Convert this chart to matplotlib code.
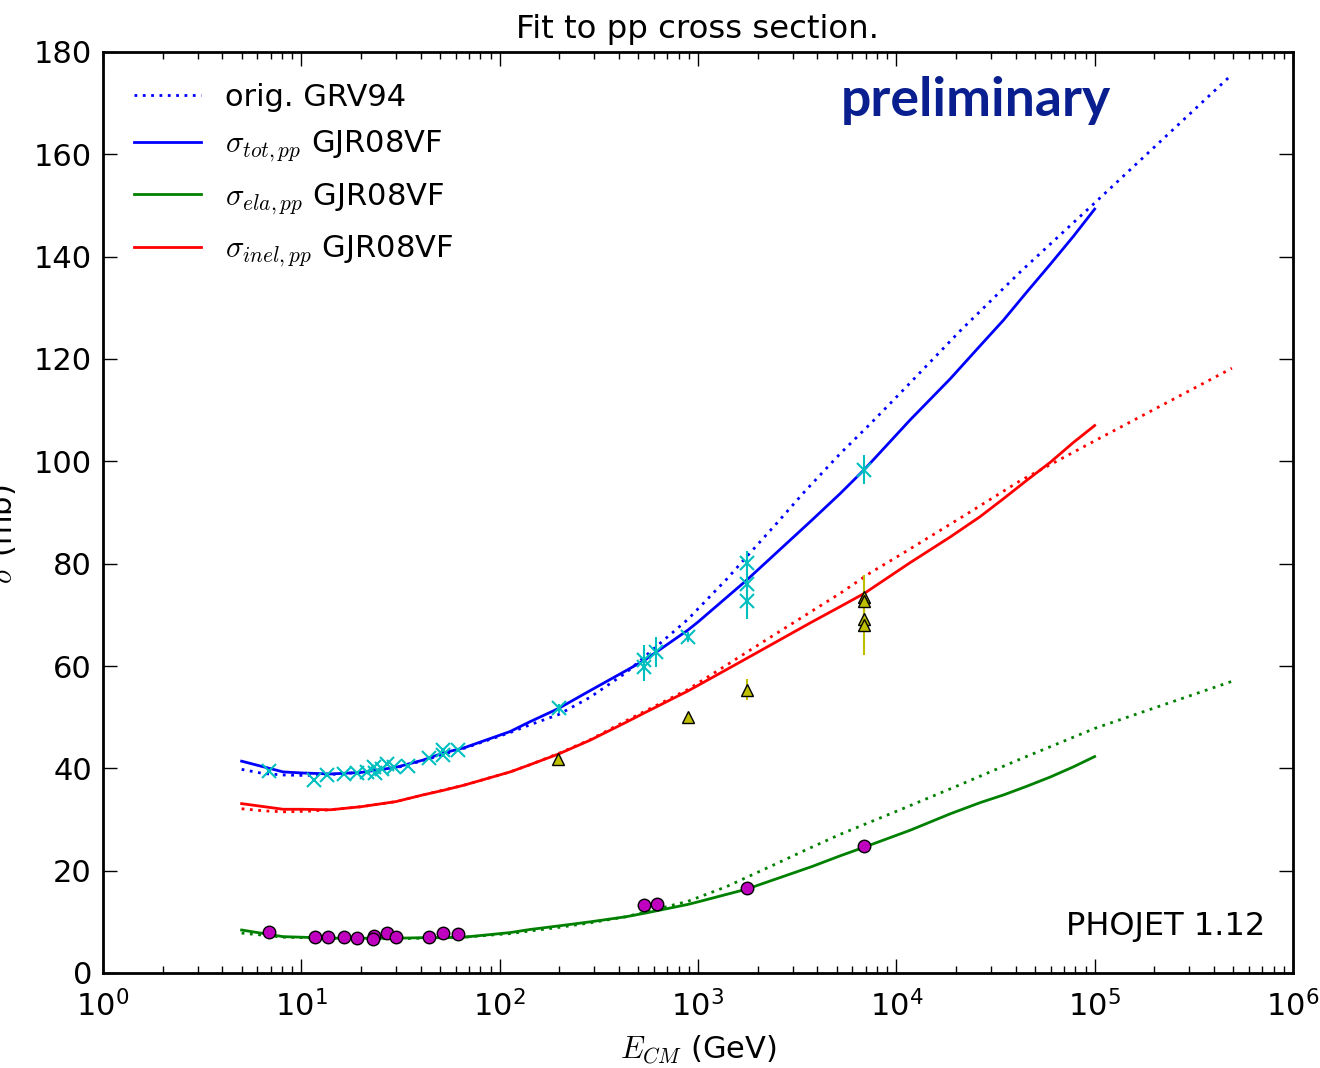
import numpy as np
import matplotlib
matplotlib.use("Agg")
import matplotlib.pyplot as plt

# ---- GJR08VF fit curves ----
E_fit = [5, 8.1, 10, 14, 20, 30, 41, 52, 66, 113, 142, 198, 286, 434, 541,
         888, 1000, 1762, 3750, 5210, 6900, 11740, 18670, 26470, 34700, 45500,
         59700, 78200, 100000]
tot_fit = [41.4, 39.3, 39.1, 38.9, 39.2, 40.2, 41.6, 43.0, 44.0, 47.2, 49.1,
           51.7, 55.2, 59.1, 61.2, 67.0, 68.6, 76.8, 88.5, 93.7, 98.4, 108.1,
           116.1, 122.6, 127.6, 133.1, 138.5, 144.0, 149.3]
inel_fit = [33.1, 32.0, 32.0, 31.9, 32.5, 33.5, 34.8, 35.7, 36.7, 39.3, 40.7,
            42.8, 45.5, 49.0, 50.9, 55.1, 56.2, 61.5, 68.6, 71.6, 74.2, 80.2,
            85.2, 89.2, 92.7, 96.3, 99.8, 103.7, 107.0]
ela_fit = [8.4, 7.1, 7.0, 6.8, 6.8, 6.8, 6.9, 6.9, 7.0, 7.9, 8.5, 9.2, 10.0,
           11.0, 11.7, 13.4, 13.9, 16.4, 20.8, 22.9, 24.6, 27.9, 31.1, 33.3,
           34.8, 36.5, 38.3, 40.3, 42.3]

# ---- original GRV94 curves ----
E_grv = [5, 6.4, 8.1, 10.6, 14, 20, 30, 41, 66, 113, 142, 198, 286, 434, 888,
         1397, 1830, 2495, 3470, 5210, 7380, 10450, 20980, 42100, 100000, 492000]
tot_grv = [39.8, 39.0, 38.7, 38.6, 38.8, 39.2, 40.1, 41.5, 43.9, 47.0, 48.5,
           50.5, 53.9, 58.7, 69.1, 77.0, 82.1, 87.9, 94.2, 101.5, 107.3, 113.3,
           125.5, 137.0, 150.5, 175.6]
inel_grv = [32.1, 31.7, 31.5, 31.6, 31.9, 32.5, 33.5, 34.8, 36.7, 39.3, 40.7,
            42.9, 45.6, 49.3, 55.4, 60.2, 63.1, 66.4, 69.9, 74.2, 78.2, 81.7,
            88.9, 96.2, 104.0, 118.2]
ela_grv = [7.8, 7.4, 7.0, 6.9, 6.8, 6.7, 6.7, 6.8, 7.0, 7.7, 8.2, 8.9, 9.8,
           11.0, 14.0, 16.9, 19.0, 21.4, 24.0, 27.1, 29.5, 31.9, 36.8, 41.8,
           47.8, 57.0]

# ---- measurements ----
E_tot = [6.9, 11.6, 13.5, 16.5, 19.0, 21.4, 23.3, 23.5, 25.4, 27.0, 29.3, 34.7,
         44.0, 52.0, 52.0, 62.0, 198, 537, 537, 615, 888, 1775, 1775, 1775, 6900]
sig_tot = [39.5, 37.7, 38.7, 38.8, 39.1, 39.3, 40.2, 39.1, 39.8, 40.8, 40.3,
           40.5, 42.0, 43.6, 42.6, 43.5, 51.7, 61.2, 59.9, 62.8, 65.6, 80.2,
           76.0, 72.7, 98.4]
err_tot = [0.3, 0.3, 0.3, 0.3, 0.3, 0.3, 0.3, 0.3, 0.3, 0.3, 0.3, 0.3, 0.3,
           0.3, 0.3, 0.3, 0.8, 2.9, 2.9, 2.9, 1.0, 2.3, 2.2, 3.6, 2.9]

E_inel = [197, 888, 1775, 6900, 6900, 6900, 6900]
sig_inel = [41.8, 50.1, 55.4, 73.5, 72.7, 69.2, 68.0]
err_inel = [0.6, 0.5, 2.1, 4.3, 1.5, 2.5, 5.9]

E_ela = [6.9, 11.7, 13.6, 16.5, 19.0, 23.3, 23.0, 27.1, 29.9, 44.0, 52.0,
         61.5, 537, 620, 1775, 6900]
sig_ela = [7.95, 7.1, 7.0, 7.0, 6.8, 7.3, 6.6, 7.9, 7.0, 7.1, 7.75, 7.6,
           13.3, 13.5, 16.55, 24.8]
err_ela = [0.1, 0.1, 0.1, 0.1, 0.1, 0.1, 0.1, 0.1, 0.1, 0.1, 0.1, 0.1,
           0.3, 0.3, 0.8, 0.5]

plt.rcParams['font.family'] = ['DejaVu Sans']
plt.rcParams['mathtext.fontset'] = 'cm'

fig = plt.figure(figsize=(13.2, 10.68), dpi=100)
ax = fig.add_axes([103 / 1320, 95 / 1068, 1190 / 1320, 921 / 1068])

dots = dict(linestyle=(0, (1, 2.0)), lw=2, dash_capstyle='butt')
ax.plot(E_grv, tot_grv, color='blue', label='orig. GRV94', **dots)
ax.plot(E_fit, tot_fit, color='blue', lw=2, label=r'$\sigma_{tot,pp}$ GJR08VF')
ax.plot(E_grv, ela_grv, color='green', **dots)
ax.plot(E_fit, ela_fit, color='green', lw=2, label=r'$\sigma_{ela,pp}$ GJR08VF')
ax.plot(E_grv, inel_grv, color='red', **dots)
ax.plot(E_fit, inel_fit, color='red', lw=2, label=r'$\sigma_{inel,pp}$ GJR08VF')

ax.errorbar(E_tot, sig_tot, yerr=err_tot, fmt='x', color=(0, 0.75, 0.75),
            ms=10, mew=1.5, elinewidth=1.5, capsize=0)
ax.errorbar(E_inel, sig_inel, yerr=err_inel, fmt='^', color=(0.75, 0.75, 0),
            mfc=(0.75, 0.75, 0), mec='black', ms=9, mew=1, elinewidth=1.5,
            capsize=0)
ax.errorbar(E_ela, sig_ela, yerr=err_ela, fmt='o', color=(0.75, 0, 0.75),
            mfc=(0.75, 0, 0.75), mec='black', ms=9, mew=1, elinewidth=1.5,
            capsize=0)

ax.set_xscale('log')
ax.set_xlim(1, 1e6)
ax.set_ylim(0, 180)
ax.set_yticks(range(0, 181, 20))
ax.tick_params(which='both', direction='in', top=True, right=True,
               labelsize=22)
ax.tick_params(axis='x', pad=12)
ax.tick_params(axis='y', pad=8)
ax.tick_params(which='major', length=10, width=1)
ax.tick_params(which='minor', length=5, width=1)
for sp in ax.spines.values():
    sp.set_linewidth(2)

ax.set_title('Fit to pp cross section.', fontsize=23.3, pad=10)
ax.set_xlabel(r'$E_{CM}$ (GeV)', fontsize=22, labelpad=8)
ax.set_ylabel(r'$\sigma$ (mb)', fontsize=22)
ax.yaxis.set_label_coords(18 / 1320, 0.5, transform=fig.transFigure)

ax.legend(loc='upper left', frameon=False, fontsize=22, handlelength=2.2,
          handletextpad=0.8, labelspacing=0.57, borderaxespad=0.6)

ax.text(0.62, 0.947, 'preliminary', transform=ax.transAxes, fontsize=38.5,
        family='Lato', fontweight='bold', color='#0a1f8f', va='center',
        ha='left')
ax.text(0.9765, 0.05, 'PHOJET 1.12', transform=ax.transAxes, fontsize=23,
        ha='right', va='center')

fig.savefig('out.png', dpi=100)
